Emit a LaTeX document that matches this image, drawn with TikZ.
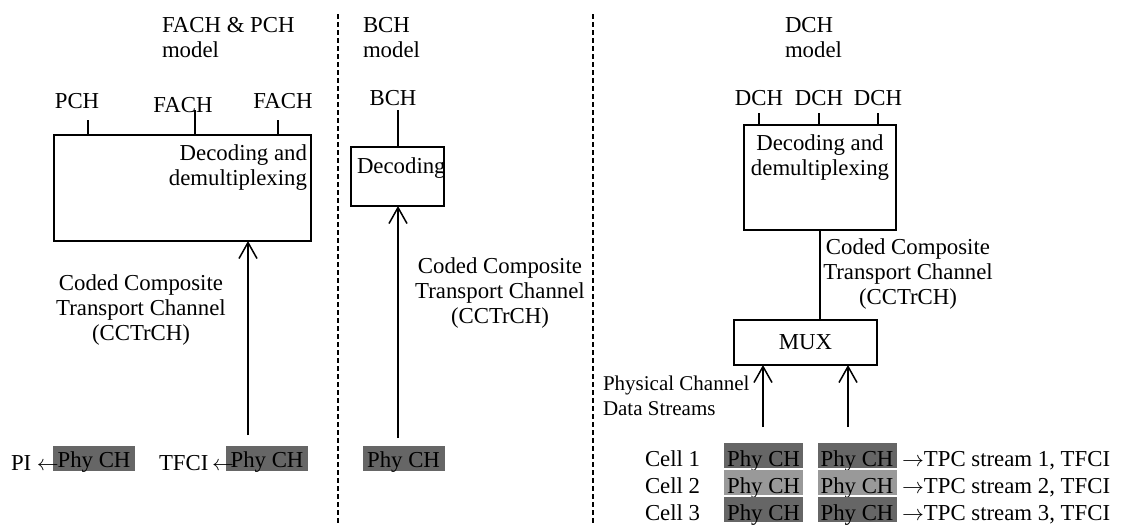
\documentclass[tikz,border=0pt]{standalone}
\usepackage{fontspec}
\setmainfont{Liberation Serif}
\usetikzlibrary{arrows.meta,positioning}

\begin{document}
\begin{tikzpicture}[
    x=0.5pt,y=-0.5pt,
    every node/.style={font=\fontsize{11.4}{12.5}\selectfont,inner sep=0pt,outer sep=0pt},
    block/.style={draw,line width=0.9pt},
    phy/.style={fill=phydark,minimum width=41pt,text height=10.5pt,text depth=2pt},
    cellphy/.style={phy,minimum width=39.5pt,text height=11.5pt,text depth=1pt},
    feed/.style={line width=0.75pt},
    arr/.style={feed,-{Straight Barb[length=8pt,width=9pt]}},
    divider/.style={line width=0.6pt,dash pattern=on 2.5pt off 1.5pt}
  ]
  \colorlet{phydark}{black!60}
  \colorlet{phylight}{black!40}
  \def\cctrch{Coded Composite\\Transport Channel\\(CCTrCH)}
  \useasboundingbox (0,0) rectangle (1146,525);
  \draw[divider] (338,14) -- (338,525);
  \draw[divider] (593,14) -- (593,525);

  % FACH & PCH (multi-line nodes sit on their last baseline)
  \node[anchor=base west,align=left] (fachtitle) at (162,57) {FACH \& PCH\\model};
  \node[block,minimum width=128.5pt,minimum height=53pt] (fachbox) at (182.5,188) {};
  \node[anchor=base east,align=right] (fachtext) at (307,185) {Decoding and\\demultiplexing};
  \node[anchor=base] (pch) at (77,108) {PCH};
  \node[anchor=base] (facha) at (183,112) {FACH};
  \node[anchor=base] (fachb) at (283,108) {FACH};
  \foreach \x/\top in {88/120,195/110,278/120}
    \draw[feed] (\x,\top) -- (\x,\top |- fachbox.north);
  \node[anchor=base,align=center] (fachcc) at (141,340) {\cctrch};
  \node[phy,anchor=base] (piphy) at (94,467) {Phy CH};
  \node[phy,anchor=base] (tfciphy) at (267,467) {Phy CH};
  \node[anchor=base west] (pi) at (11,470) {PI $\leftarrow$};
  \node[anchor=base west] (tfci) at (159,470) {TFCI\,$\leftarrow$};
  \draw[arr] (248,435) -- (248,435 |- fachbox.south);

  % BCH
  \node[anchor=base west,align=left] (bchtitle) at (363,57) {BCH\\model};
  \node[anchor=base] (bch) at (393,105) {BCH};
  \node[block,minimum width=46.5pt,minimum height=29.5pt] (bchbox) at (397.5,176.5) {};
  \node[anchor=base west] (bchtext) at (357,173) {Decoding};
  \draw[feed] (398,110) -- (398,110 |- bchbox.north);
  \node[anchor=base,align=center] (bchcc) at (500,323) {\cctrch};
  \node[phy,anchor=base] (bchphy) at (403.5,467) {Phy CH};
  \draw[arr] (398,438) -- (398,438 |- bchbox.south);

  % DCH
  \node[anchor=base west,align=left] (dchtitle) at (785,57) {DCH\\model};
  \node[block,minimum width=76pt,minimum height=52.5pt] (dchbox) at (820,177.5) {};
  \node[anchor=base,align=center] (dchtext) at (820,175) {Decoding and\\demultiplexing};
  \foreach \x/\name in {759/dcha,819/dchb,878/dchc} {
    \node[anchor=base] (\name) at (\x,105) {DCH};
    \draw[feed] (\x,113) -- (\x,113 |- dchbox.north);
  }
  \node[block,minimum width=71.5pt,minimum height=22.5pt] (mux) at (805.5,342.5) {MUX};
  \draw[feed] (dchbox.south) -- (dchbox.south |- mux.north);
  \node[anchor=base,align=center] (dchcc) at (908,304) {\cctrch};
  \node[anchor=base west,align=left,font=\fontsize{10.5}{12.5}\selectfont] (streams) at (603,415) {Physical Channel\\Data Streams};
  \foreach \x in {763,848}
    \draw[arr] (\x,427) -- (\x,427 |- mux.south);
  \foreach \row/\y/\shade in {1/466/phydark,2/493/phylight,3/520/phydark} {
    \node[anchor=base west] (cell\row) at (645,\y) {Cell \row};
    \node[cellphy,fill=\shade,anchor=base] (phya\row) at (763.5,\y) {Phy CH};
    \node[cellphy,fill=\shade,anchor=base] (phyb\row) at (857,\y) {Phy CH};
    \node[anchor=base west] (tpc\row) at (902,\y) {$\rightarrow$TPC stream \row, TFCI};
  }
\end{tikzpicture}
\end{document}
